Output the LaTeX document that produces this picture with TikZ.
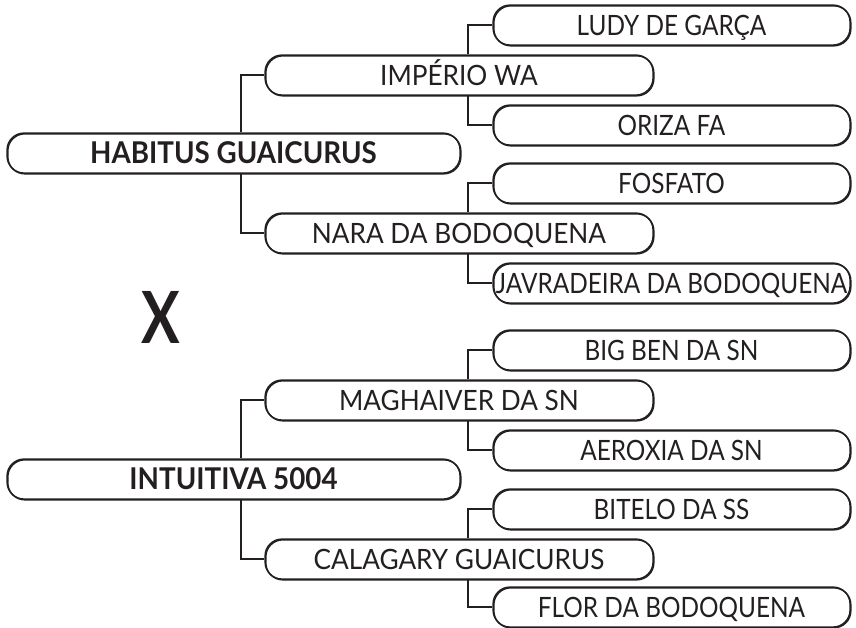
\documentclass[tikz,border=0pt]{standalone}
\usepackage{fontspec}
\setmainfont{Lato}
\newfontfamily\regfont[FakeStretch=0.87]{Lato}
\newfontfamily\midfont[FakeStretch=0.935]{Lato}
\newfontfamily\boldfont[FakeStretch=0.925]{Lato}
\newfontfamily\crossfont[FakeStretch=0.80]{Lato}
\begin{document}
\begin{tikzpicture}[x=1pt,y=-1pt,
  every node/.style={text=txt},
  boxbase/.style={draw=ln, line width=1.3pt, rounded corners=17pt, minimum height=40pt, inner sep=0pt,
    preaction={draw=ln, line width=1.5pt, transform canvas={shift={(0.8pt,-0.8pt)}}},
    text height=20pt, text depth=0pt},
  rootbox/.style={boxbase, minimum width=453pt, font=\boldfont\fontsize{30}{30}\selectfont\bfseries, text height=21.7pt},
  midbox/.style={boxbase, minimum width=388pt, font=\midfont\fontsize{28}{28}\selectfont},
  leafbox/.style={boxbase, minimum width=357pt, font=\regfont\fontsize{28}{28}\selectfont},
  conn/.style={draw=ln, line width=1.1pt}]
\definecolor{txt}{HTML}{231F20}
\definecolor{ln}{HTML}{231F20}
\useasboundingbox (0,0) rectangle (856,627);
\coordinate (v1) at (241,0);
\coordinate (v2) at (468,0);
% top half
\node[rootbox] (h) at (233.5,153) {HABITUS GUAICURUS};
\node[midbox] (m1) at (459,75) {IMPÉRIO WA};
\node[midbox] (m2) at (459,233) {NARA DA BODOQUENA};
\node[leafbox] (l1) at (671.5,25) {LUDY DE GARÇA};
\node[leafbox] (l2) at (671.5,125) {ORIZA FA};
\node[leafbox] (l3) at (671.5,183) {FOSFATO};
\node[leafbox] (l4) at (671.5,283) {JAVRADEIRA DA BODOQUENA};
% bottom half
\node[rootbox] (i) at (233.5,479) {INTUITIVA 5004};
\node[midbox] (m3) at (459,400) {MAGHAIVER DA SN};
\node[midbox] (m4) at (459,559) {CALAGARY GUAICURUS};
\node[leafbox] (l5) at (671.5,350) {BIG BEN DA SN};
\node[leafbox] (l6) at (671.5,450) {AEROXIA DA SN};
\node[leafbox] (l7) at (671.5,509) {BITELO DA SS};
\node[leafbox] (l8) at (671.5,607) {FLOR DA BODOQUENA};
% cross
\node[font=\crossfont\fontsize{72}{72}\selectfont\bfseries, text height=53pt, text depth=0pt, inner sep=0pt] (x) at (161,316.5) {X};
% connectors
\draw[conn] (h.north -| v1) |- (m1.west);
\draw[conn] (h.south -| v1) |- (m2.west);
\draw[conn] (i.north -| v1) |- (m3.west);
\draw[conn] (i.south -| v1) |- (m4.west);
\draw[conn] (m1.north -| v2) |- (l1.west);
\draw[conn] (m1.south -| v2) |- (l2.west);
\draw[conn] (m2.north -| v2) |- (l3.west);
\draw[conn] (m2.south -| v2) |- (l4.west);
\draw[conn] (m3.north -| v2) |- (l5.west);
\draw[conn] (m3.south -| v2) |- (l6.west);
\draw[conn] (m4.north -| v2) |- (l7.west);
\draw[conn] (m4.south -| v2) |- (l8.west);
\end{tikzpicture}
\end{document}
